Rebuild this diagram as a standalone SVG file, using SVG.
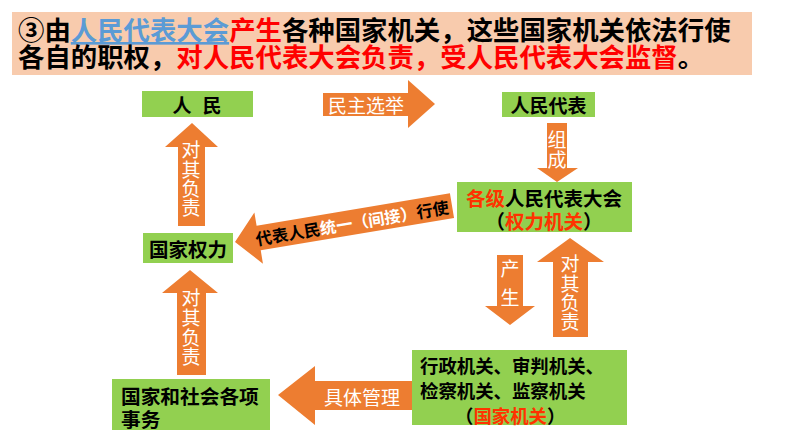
<svg xmlns="http://www.w3.org/2000/svg" width="794" height="447" viewBox="0 0 794 447">
<style>
text{font-family:"Noto Sans CJK SC","Noto Sans",sans-serif;dominant-baseline:central}
.box{fill:#92D050}
.arr{fill:#ED7D31}
.b{font-weight:bold;fill:#000}
.w{fill:#fff;font-size:19px}
.v{writing-mode:vertical-rl;text-orientation:upright}
.red{fill:#FF0000}
.or{fill:#FF3300}
.blue{fill:#5B9BD5}
.tb{font-size:26.4px;font-weight:bold;fill:#000}
</style>
<rect width="794" height="447" fill="#fff"/>
<g id="title">
<rect x="12" y="12" width="740" height="63" fill="#F8CBAD"/>
<text class="tb"><tspan x="18" y="28">③由<tspan class="blue" text-decoration="underline">人民代表大会</tspan><tspan class="red">产生</tspan>各种国家机关，这些国家机关依法行使</tspan><tspan x="18" y="55">各自的职权，<tspan class="red">对人民代表大会负责，受人民代表大会监督</tspan>。</tspan></text>
</g>
<g id="connectors">
<g id="e-election">
<polygon class="arr" points="323,93 408,93 408,80 435,104 408,128 408,116 323,116"/>
<text class="w" x="366" y="104" text-anchor="middle">民主选举</text>
</g>
<g id="e-compose">
<polygon class="arr" points="547,123 567,123 567,168 578,168 557,182 537,168 547,168"/>
<text class="w v" x="557" y="130.5" style="letter-spacing:1px">组成</text>
</g>
<g id="e-exercise">
<g transform="translate(235,242) rotate(-9.5)">
<polygon class="arr" points="0,0 24,-26 24,-12.5 220,-12.5 220,12.5 24,12.5 24,26"/>
<text x="21" y="0" style="font-size:16.3px;font-weight:bold"><tspan fill="#000">代表人民</tspan><tspan fill="#fff">统一（间接）</tspan><tspan fill="#000">行使</tspan></text>
</g>
</g>
<g id="e-resp1">
<polygon class="arr" points="192,123 218,147 205,147 205,226 178,226 178,147 165,147"/>
<text class="w v" x="191" y="140.5" style="letter-spacing:0.3px">对其负责</text>
</g>
<g id="e-produce">
<polygon class="arr" points="497,255 523,255 523,306 535,306 510,325 485,306 497,306"/>
<text class="w v" x="510" y="259.5" style="letter-spacing:10px">产生</text>
</g>
<g id="e-resp2">
<polygon class="arr" points="570,238 604,262 588,262 588,337 553,337 553,262 537,262"/>
<text class="w v" x="570" y="254.5" style="letter-spacing:0.3px">对其负责</text>
</g>
<g id="e-manage">
<polygon class="arr" points="278,395 315,366 315,381 413,381 413,410 315,410 315,425"/>
<text class="w" x="362" y="396" text-anchor="middle">具体管理</text>
</g>
<g id="e-resp3">
<polygon class="arr" points="190,270 218,293 206,293 206,375 177,375 177,293 162,293"/>
<text class="w v" x="191" y="288.5" style="letter-spacing:0.7px">对其负责</text>
</g>
</g>
<g id="n-people">
<rect class="box" x="142" y="91" width="111" height="26"/>
<text class="b" x="172.5" y="104" style="font-size:19px;letter-spacing:11px">人民</text>
</g>
<g id="n-deputies">
<rect class="box" x="502" y="92" width="93" height="25"/>
<text class="b" x="548.5" y="104" text-anchor="middle" style="font-size:19px">人民代表</text>
</g>
<g id="n-congress">
<rect class="box" x="457" y="182" width="175" height="50"/>
<text class="b" text-anchor="middle" style="font-size:19.5px"><tspan x="544" y="197"><tspan class="or">各级</tspan>人民代表大会</tspan><tspan x="544" y="220">（<tspan class="or">权力机关</tspan>）</tspan></text>
</g>
<g id="n-power">
<rect class="box" x="143" y="233" width="90" height="30"/>
<text class="b" x="188" y="248" text-anchor="middle" style="font-size:19.5px">国家权力</text>
</g>
<g id="n-organs">
<rect class="box" x="412" y="350" width="215" height="75"/>
<text class="b" style="font-size:18.4px"><tspan x="420" y="365">行政机关、审判机关、</tspan><tspan x="420" y="390">检察机关、监察机关</tspan><tspan x="455" y="415">（<tspan class="or">国家机关</tspan>）</tspan></text>
</g>
<g id="n-affairs">
<rect class="box" x="112" y="379" width="158" height="51"/>
<text class="b" style="font-size:19.7px"><tspan x="121" y="395">国家和社会各项</tspan><tspan x="121" y="418">事务</tspan></text>
</g>
</svg>
